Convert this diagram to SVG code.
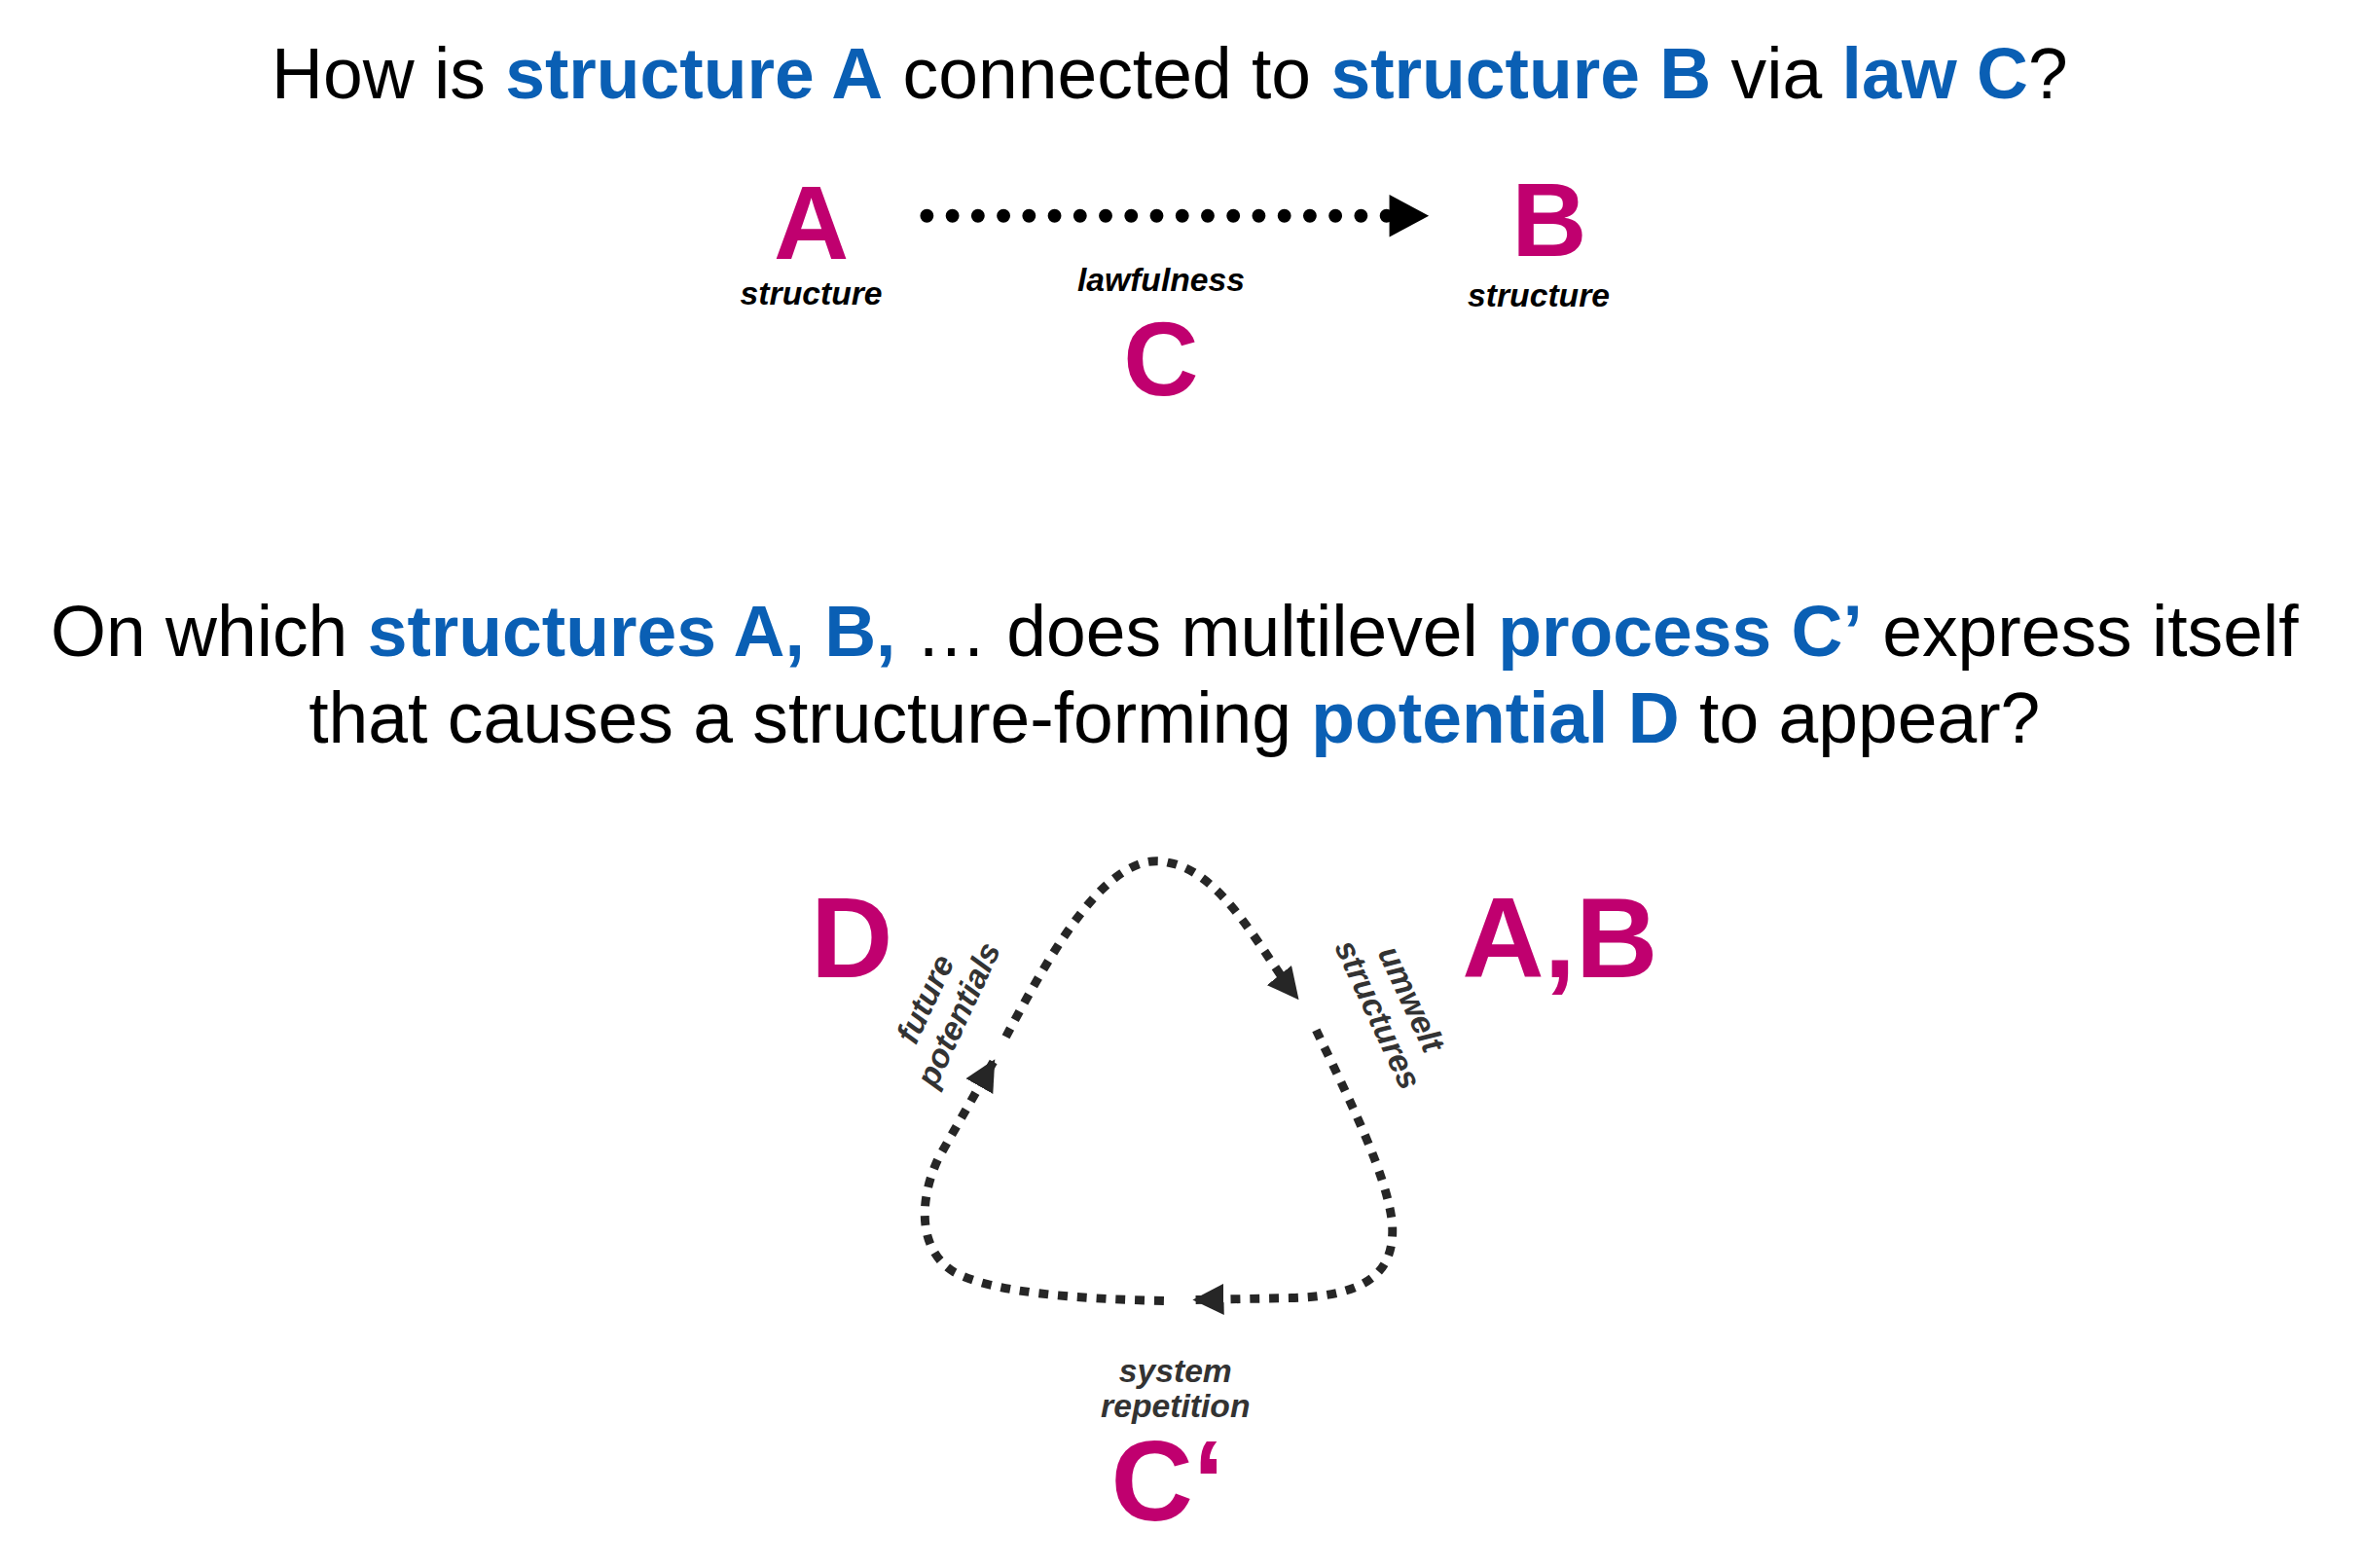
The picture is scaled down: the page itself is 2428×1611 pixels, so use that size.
<svg xmlns="http://www.w3.org/2000/svg" width="2428" height="1611" viewBox="0 0 2428 1611">
<style>
.t{font-family:"Liberation Sans",Arial,sans-serif;font-size:74px;fill:#000}
.b{fill:#0a5fb4;font-weight:bold}
.m{font-family:"Liberation Sans",Arial,sans-serif;font-weight:bold;fill:#c0006f;text-anchor:middle}
.l{font-family:"Liberation Sans",Arial,sans-serif;font-weight:bold;font-style:italic;font-size:34px;text-anchor:middle}
.d{fill:none;stroke:#262626;stroke-width:9;stroke-dasharray:10 10}
</style>
<defs>
<marker id="ah" viewBox="0 0 10 10" refX="9" refY="5" markerWidth="3.6" markerHeight="3.6" orient="auto" markerUnits="strokeWidth"><path d="M0,0L10,5L0,10z" fill="#262626"/></marker>
</defs>
<rect width="2428" height="1611" fill="#fff"/>
<g transform="scale(0.99)">
<text class="t" x="1214" y="102" text-anchor="middle">How is <tspan class="b">structure A</tspan> connected to <tspan class="b">structure B</tspan> via <tspan class="b">law C</tspan>?</text>
<text class="t" x="1219" y="681" text-anchor="middle">On which <tspan class="b">structures A, B,</tspan> … does multilevel <tspan class="b">process C’</tspan> express itself</text>
<text class="t" x="1219" y="771" text-anchor="middle">that causes a structure-forming <tspan class="b">potential D</tspan> to appear?</text>
<g id="connectors">
<path d="M962,224H1447" stroke="#000" stroke-width="14" stroke-linecap="round" stroke-dasharray="0 26.5" fill="none"/>
<path d="M1442,202L1483,224L1442,246z" fill="#000"/>
<path class="d" d="M1044,1076C1090,990 1150,880 1212,895C1270,905 1310,990 1346,1035" marker-end="url(#ah)"/>
<path class="d" d="M1366,1069C1400,1140 1440,1220 1445,1270C1448,1320 1420,1345 1340,1347L1241,1349" marker-end="url(#ah)"/>
<path class="d" d="M1208,1350C1120,1348 1030,1342 990,1320C950,1295 955,1240 975,1200L1031,1102" marker-end="url(#ah)"/>
</g>
<g id="A"><text class="m" x="842" y="269" font-size="108">A</text><text class="l" x="842" y="316">structure</text></g>
<g id="B"><text class="m" x="1608" y="266" font-size="108">B</text><text class="l" x="1597" y="318">structure</text></g>
<g id="C"><text class="l" x="1205" y="302">lawfulness</text><text class="m" x="1205" y="410" font-size="108">C</text></g>
<g id="D"><text class="m" x="884" y="1014" font-size="118">D</text>
<text class="l" fill="#333" font-size="35" transform="translate(978,1045) rotate(-65)"><tspan x="0" y="-8">future</tspan><tspan x="0" y="30">potentials</tspan></text></g>
<g id="AB"><text class="m" x="1619" y="1014" font-size="118">A,B</text>
<text class="l" fill="#333" font-size="35" transform="translate(1447,1045) rotate(65)"><tspan x="0" y="-8">umwelt</tspan><tspan x="0" y="30">structures</tspan></text></g>
<g id="Cp"><text class="l" fill="#333" font-size="32" x="1220" y="1434">system</text><text class="l" fill="#333" font-size="32" x="1220" y="1471">repetition</text>
<text class="m" x="1212" y="1578" font-size="118">C‘</text></g>
</g>
</svg>
